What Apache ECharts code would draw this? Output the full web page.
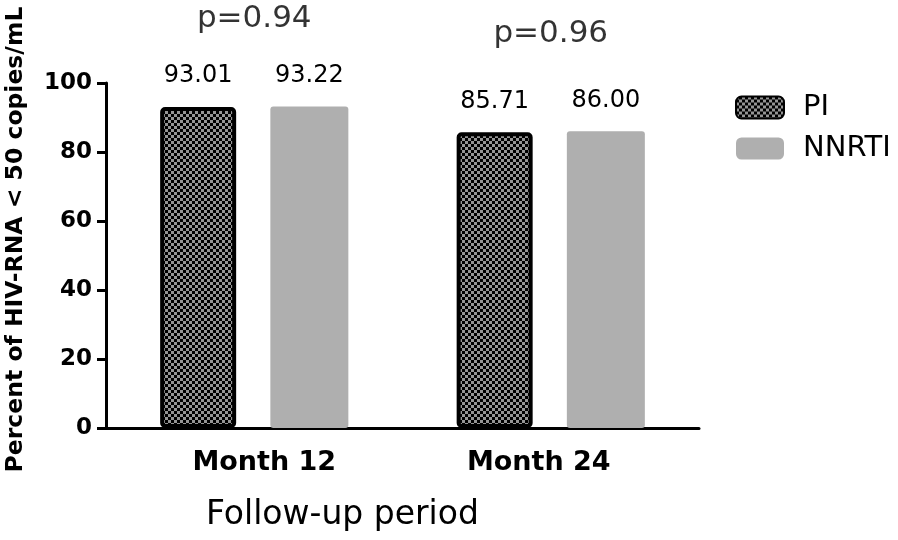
<!DOCTYPE html>
<html><head><meta charset="utf-8">
<script src="https://cdn.jsdelivr.net/npm/echarts@6/dist/echarts.min.js"></script>
<style>html,body{margin:0;padding:0;background:#fff}#c{width:898px;height:540px}</style>
</head><body><div id="c"></div>
<script>
const categories = ['Month 12', 'Month 24'];
const seriesNames = ['PI', 'NNRTI'];
const piValues = [93.01, 85.71];
const nnrtiValues = [93.22, 86.00];
const pLabels = ['p=0.94', 'p=0.96'];
const pLabelY = [118.5, 114.2];
const yTicks = [0, 20, 40, 60, 80, 100];

const FONT = '"DejaVu Sans", sans-serif';

// checker pattern
const pc = document.createElement('canvas');
pc.width = 6; pc.height = 6;
const g = pc.getContext('2d');
g.fillStyle = '#000'; g.fillRect(0, 0, 6, 6);
g.fillStyle = '#959595'; g.fillRect(0, 0, 3, 3); g.fillRect(3, 3, 3, 3);

const chart = echarts.init(document.getElementById('c'), null, {renderer: 'canvas'});
const valueLabel = {
  show: true, position: 'top', distance: 19,
  fontFamily: FONT, fontSize: 24, color: '#000',
  formatter: p => p.value.toFixed(2)
};
const catStyle = {fontFamily: FONT, fontWeight: 'bold', fontSize: 27, color: '#000'};
chart.setOption({
  animation: false,
  backgroundColor: '#fff',
  grid: {left: 106, right: 199, top: 83, bottom: 112, containLabel: false, outerBoundsMode: 'none'},
  legend: {
    left: 730, top: 88, orient: 'vertical',
    itemWidth: 48, itemHeight: 22, itemGap: 12,
    textStyle: {fontFamily: FONT, fontSize: 29, color: '#000', padding: [0, 0, 0, 14]},
    data: seriesNames
  },
  xAxis: {
    type: 'category', data: categories,
    axisLine: {lineStyle: {color: '#000', width: 3}},
    axisTick: {show: false},
    axisLabel: {
      fontFamily: FONT, fontWeight: 'bold', fontSize: 27, color: '#000', margin: 21,
      formatter: (v, i) => i === 0 ? '{a|' + v + '}' : '{b|' + v + '}',
      rich: {
        a: Object.assign({padding: [0, 0, 0, 20]}, catStyle),
        b: Object.assign({padding: [0, 24, 0, 0]}, catStyle)
      }
    }
  },
  yAxis: {
    type: 'value', min: 0, max: 100, interval: 20,
    name: 'Percent of HIV-RNA < 50 copies/mL',
    nameLocation: 'middle', nameGap: 78,
    nameTextStyle: {fontFamily: FONT, fontWeight: 'bold', fontSize: 23.5, color: '#000', padding: [0, 0, 0, 32]},
    axisLine: {show: true, lineStyle: {color: '#000', width: 3}},
    axisTick: {show: true, length: 9, lineStyle: {color: '#000', width: 3}},
    splitLine: {show: false},
    axisLabel: {fontFamily: FONT, fontWeight: 'bold', fontSize: 23, color: '#000', margin: 14,
      formatter: v => yTicks.includes(v) ? String(v) : ''}
  },
  series: [
    {
      name: seriesNames[0], type: 'bar', data: piValues,
      barWidth: 76, barGap: '45%',
      itemStyle: {color: {image: pc, repeat: 'repeat'}, borderColor: '#000', borderWidth: 4, borderRadius: 3},
      label: valueLabel
    },
    {
      name: seriesNames[1], type: 'bar', data: nnrtiValues,
      barWidth: 78,
      itemStyle: {color: '#afafaf', borderRadius: 3},
      label: valueLabel
    },
    {
      type: 'scatter', clip: false, symbolSize: 1, silent: true,
      itemStyle: {color: 'rgba(0,0,0,0)'},
      data: categories.map((c, i) => [c, pLabelY[i]]),
      label: {show: true, position: 'inside', fontFamily: FONT, fontSize: 31, color: '#000',
        formatter: p => pLabels[p.dataIndex]}
    }
  ],
  graphic: [{
    type: 'text', left: 206, top: 499,
    style: {text: 'Follow-up period', font: '33px "DejaVu Sans", sans-serif', fill: '#000'}
  }]
});
</script></body></html>
